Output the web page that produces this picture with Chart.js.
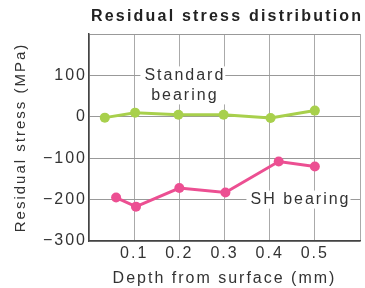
<!DOCTYPE html>
<html lang="en">
<head>
<meta charset="UTF-8">
<title>Residual stress distribution</title>
<script src="https://cdn.jsdelivr.net/npm/chart.js"></script>
<style>
    body { margin: 0; padding: 0; background: #fff; }
    #wrap { width: 365px; height: 288px; position: relative; }
</style>
</head>
<body>
<div id="wrap"><canvas id="c"></canvas></div>
<script>
// depth (mm) and stress (MPa)
var standardDepth = [0.035, 0.102, 0.198, 0.298, 0.402, 0.5];
var standardStress = [-2, 10, 5, 5, -3, 15];
var shDepth = [0.06, 0.104, 0.2, 0.302, 0.42, 0.5];
var shStress = [-195, -217, -172, -183, -108, -120];

var xTicks = [0.1, 0.2, 0.3, 0.4, 0.5];
var yTicks = [100, 0, -100, -200, -300];

// in-plot labels (data coords)
var labels = [
    { lines: ['Standard', 'bearing'], x: 0.21, y: 100 },
    { lines: ['SH bearing'], x: 0.466, y: -200 }
];

function pts(xs, ys) {
    return xs.map(function (x, i) { return { x: x, y: ys[i] }; });
}

var FONT = '"Liberation Sans", Arial, sans-serif';

// the original lettering is quite wide, so space the letters out a bit
var spacingPlugin = {
    id: 'spacing',
    beforeDraw: function (chart) {
        chart.ctx.letterSpacing = '2px';
    }
};

var labelPlugin = {
    id: 'labels',
    beforeDatasetsDraw: function (chart) {
        var ctx = chart.ctx, xs = chart.scales.x, ys = chart.scales.y;
        ctx.save();
        ctx.font = '16px ' + FONT;
        ctx.textAlign = 'center';
        ctx.textBaseline = 'middle';
        labels.forEach(function (l) {
            var cx = xs.getPixelForValue(l.x);
            var cy = ys.getPixelForValue(l.y);
            var w = 0;
            l.lines.forEach(function (t) { w = Math.max(w, ctx.measureText(t).width); });
            var h = l.lines.length * 20;
            ctx.fillStyle = '#fff';
            ctx.fillRect(cx - w / 2 - 3, cy - 9, w + 4, h - 2);
            ctx.fillStyle = '#333';
            l.lines.forEach(function (t, i) { ctx.fillText(t, cx + 1, cy + i * 20); });
        });
        // title
        ctx.letterSpacing = '2.2px';
        ctx.font = 'bold 16px ' + FONT;
        ctx.textAlign = 'left';
        ctx.fillStyle = '#222';
        ctx.fillText('Residual stress distribution', chart.chartArea.left + 2, 17);
        ctx.restore();
    }
};

new Chart(document.getElementById('c'), {
    type: 'line',
    data: {
        datasets: [{
            label: 'Standard bearing',
            data: pts(standardDepth, standardStress),
            borderColor: '#a8d04c',
            backgroundColor: '#a8d04c',
            borderWidth: 3,
            pointRadius: 5,
            pointBorderWidth: 0
        }, {
            label: 'SH bearing',
            data: pts(shDepth, shStress),
            borderColor: '#ec4f92',
            backgroundColor: '#ec4f92',
            borderWidth: 3,
            pointRadius: 5,
            pointBorderWidth: 0
        }]
    },
    options: {
        responsive: true,
        maintainAspectRatio: false,
        animation: false,
        layout: { padding: { top: 34, right: 2, left: 0, bottom: 0 } },
        plugins: { legend: { display: false }, tooltip: { enabled: false } },
        scales: {
            x: {
                type: 'linear',
                min: 0, max: 0.6,
                afterBuildTicks: function (s) {
                    s.ticks = [0].concat(xTicks, [0.6]).map(function (v) { return { value: v }; });
                },
                afterFit: function (s) { s.height = 47; },
                ticks: {
                    color: '#333',
                    font: { family: FONT, size: 16 },
                    padding: 3,
                    maxRotation: 0,
                    callback: function (v) { return xTicks.indexOf(v) >= 0 ? v.toFixed(1) : ''; }
                },
                grid: { color: '#aaa', lineWidth: 1, drawTicks: false },
                border: { color: '#444', width: 1.5 },
                title: {
                    display: true,
                    text: 'Depth from surface (mm)',
                    color: '#333',
                    font: { family: FONT, size: 16 },
                    padding: { top: 0, bottom: 0 }
                }
            },
            y: {
                min: -300, max: 200,
                afterBuildTicks: function (s) {
                    s.ticks = [200].concat(yTicks).map(function (v) { return { value: v }; });
                },
                afterFit: function (s) { s.width = 89; },
                ticks: {
                    color: '#333',
                    font: { family: FONT, size: 16 },
                    padding: 2,
                    callback: function (v) {
                        if (yTicks.indexOf(v) < 0) return '';
                        return v < 0 ? '\u2212' + Math.abs(v) : String(v);
                    }
                },
                grid: { color: '#999', lineWidth: 1, drawTicks: false },
                border: { color: '#444', width: 1.5 },
                title: {
                    display: true,
                    text: 'Residual stress (MPa)',
                    color: '#333',
                    font: { family: FONT, size: 15 },
                    padding: { top: 12, bottom: 0 }
                }
            }
        }
    },
    plugins: [spacingPlugin, labelPlugin]
});
</script>
</body>
</html>
